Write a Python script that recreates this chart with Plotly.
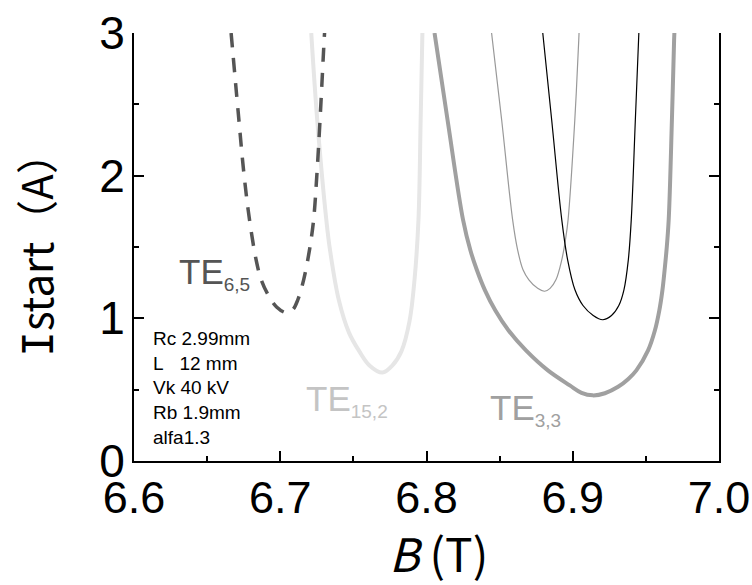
import plotly.graph_objects as go

# ---- data ----
te65_B = [6.6664, 6.6712, 6.6753, 6.6790, 6.6835, 6.6870, 6.6920, 6.6975, 6.7040,
          6.7085, 6.7120, 6.7160, 6.7200, 6.7228, 6.7250, 6.7272, 6.7300, 6.7303]
te65_I = [3.00, 2.45, 2.00, 1.69, 1.41, 1.27, 1.16, 1.08, 1.04,
          1.06, 1.13, 1.27, 1.48, 1.69, 2.00, 2.39, 2.95, 3.00]

te152_B = [6.7212, 6.7253, 6.7315, 6.7340, 6.7400, 6.7470, 6.7540, 6.7610, 6.7699,
           6.7767, 6.7829, 6.7884, 6.7918, 6.7945, 6.7960, 6.7971, 6.7972]
te152_I = [3.00, 2.39, 1.69, 1.48, 1.13, 0.90, 0.77, 0.67, 0.62,
           0.67, 0.77, 0.98, 1.27, 1.69, 2.39, 2.95, 3.00]

te33_B = [6.8055, 6.8144, 6.8250, 6.8300, 6.8345, 6.8400, 6.8470, 6.8560, 6.8680,
          6.8830, 6.8980, 6.9060, 6.9137, 6.9220, 6.9310, 6.9380, 6.9435, 6.9515,
          6.9562, 6.9592, 6.9613, 6.9628, 6.9641, 6.9656, 6.9678, 6.9693, 6.9695]
te33_I = [3.00, 2.39, 1.69, 1.477, 1.337, 1.196, 1.056, 0.916, 0.775,
          0.635, 0.530, 0.478, 0.460, 0.475, 0.520, 0.575, 0.635, 0.775,
          0.916, 1.056, 1.196, 1.337, 1.477, 1.69, 2.39, 2.95, 3.00]

thin_gray_B = [6.8445, 6.8514, 6.8589, 6.8623, 6.8660, 6.8700, 6.8760, 6.8808,
               6.8845, 6.8885, 6.8925, 6.8950, 6.8968, 6.9014, 6.9041, 6.9043]
thin_gray_I = [3.00, 2.39, 1.69, 1.48, 1.34, 1.27, 1.21, 1.19,
               1.21, 1.27, 1.41, 1.55, 1.69, 2.39, 2.95, 3.00]

thin_black_B = [6.8795, 6.8856, 6.8925, 6.8965, 6.9015, 6.9070, 6.9140, 6.9205,
                6.9265, 6.9315, 6.9350, 6.9380, 6.9400, 6.9428, 6.9450, 6.9452]
thin_black_I = [3.00, 2.39, 1.69, 1.41, 1.20, 1.09, 1.02, 0.99,
                1.02, 1.09, 1.20, 1.41, 1.69, 2.39, 2.95, 3.00]

x_ticks = [6.6, 6.7, 6.8, 6.9, 7.0]
x_tick_labels = ["6.6", "6.7", "6.8", "6.9", "7.0"]
y_ticks = [0, 1, 2, 3]
y_tick_labels = ["0", "1", "2", "3"]

params_text = ["Rc 2.99mm", "L\u00a0\u00a0\u00a012 mm", "Vk 40 kV", "Rb 1.9mm", "alfa1.3"]

fig = go.Figure()
fig.add_trace(go.Scatter(x=te152_B, y=te152_I, mode="lines",
                         line=dict(color="#e6e6e6", width=4, shape="spline", smoothing=1)))
fig.add_trace(go.Scatter(x=te33_B, y=te33_I, mode="lines",
                         line=dict(color="#a0a0a0", width=4, shape="spline", smoothing=1)))
fig.add_trace(go.Scatter(x=thin_gray_B, y=thin_gray_I, mode="lines",
                         line=dict(color="#999999", width=1.2, shape="spline", smoothing=1)))
fig.add_trace(go.Scatter(x=thin_black_B, y=thin_black_I, mode="lines",
                         line=dict(color="#000000", width=1.2, shape="spline", smoothing=1)))
fig.add_trace(go.Scatter(x=te65_B, y=te65_I, mode="lines",
                         line=dict(color="#555555", width=3.5, dash="14px,11px",
                                   shape="spline", smoothing=1)))

font_main = "Liberation Sans, Arial, sans-serif"

def te_label(main, sub, x, y, color):
    fig.add_annotation(x=x, y=y, xref="x", yref="y", xanchor="left", yanchor="middle",
                       showarrow=False,
                       text=f"{main}<sub><span style='font-size:19px'>{sub}</span></sub>",
                       font=dict(family=font_main, size=35, color=color))

te_label("TE", "6,5", 6.6295, 1.316, "#555555")
te_label("TE", "15,2", 6.7164, 0.423, "#c4c4c4")
te_label("TE", "3,3", 6.8418, 0.36, "#a0a0a0")

fig.add_annotation(x=6.6116, y=0.509, xref="x", yref="y", xanchor="left", yanchor="middle",
                   showarrow=False, align="left", text="<br>".join(params_text),
                   font=dict(family=font_main, size=19, color="#000000"))

# axis titles
fig.add_annotation(x=-0.170, y=0.505, xref="paper", yref="paper", xanchor="center", yanchor="middle",
                   showarrow=False, textangle=-90,
                   text="<span style='font-family:DejaVu Sans Mono'>I</span>start\uff08A\uff09",
                   font=dict(family="Noto Sans CJK JP, sans-serif", size=42, color="#000000"))
fig.add_annotation(x=0.52, y=-0.212, xref="paper", yref="paper", xanchor="center", yanchor="middle",
                   showarrow=False, text="<i>B</i> (T)",
                   font=dict(family="Noto Sans CJK JP, sans-serif", size=46, color="#000000"))

fig.update_layout(
    width=752, height=585,
    margin=dict(l=134, r=33, t=33, b=124, autoexpand=False),
    paper_bgcolor="white", plot_bgcolor="white",
    showlegend=False,
    xaxis=dict(range=[6.6, 7.0], tickvals=x_ticks, ticktext=x_tick_labels,
               showline=True, linecolor="black", linewidth=2, mirror=False,
               ticks="inside", ticklen=10, tickwidth=1.5, tickcolor="black",
               minor=dict(dtick=0.05, ticks="inside", ticklen=5, tickwidth=1.5, tickcolor="black"),
               showgrid=False, zeroline=False, automargin=False,
               ticklabeloverflow="allow",
               tickfont=dict(family=font_main, size=45, color="black"),
               ticklabelstandoff=-4),
    yaxis=dict(range=[0, 3], tickvals=y_ticks, ticktext=y_tick_labels,
               showline=True, linecolor="black", linewidth=2, mirror="ticks",
               ticks="inside", ticklen=10, tickwidth=1.5, tickcolor="black",
               minor=dict(dtick=0.5, ticks="inside", ticklen=5, tickwidth=1.5, tickcolor="black"),
               showgrid=False, zeroline=False, automargin=False,
               ticklabeloverflow="allow",
               tickfont=dict(family=font_main, size=46, color="black"),
               ticklabelstandoff=-2),
)

fig.write_html("out.html", config={"displayModeBar": False},
               post_script="document.body.style.margin='0';document.body.style.overflow='hidden';")
